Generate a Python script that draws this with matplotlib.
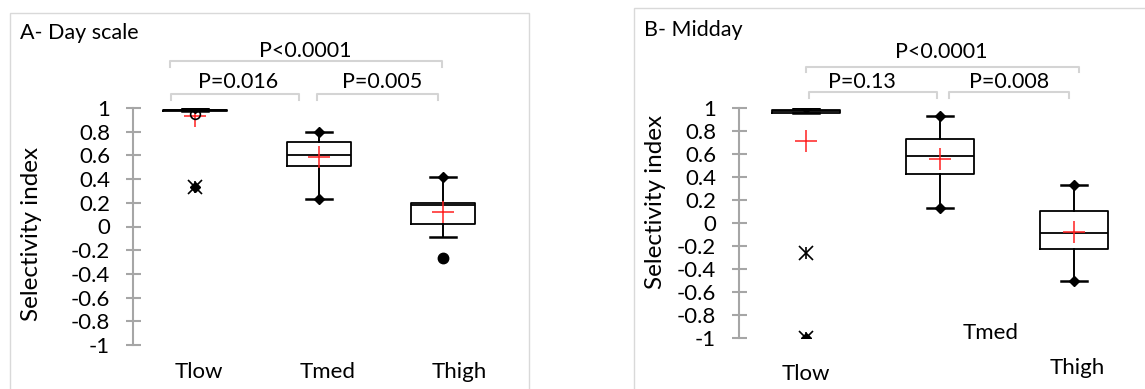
import matplotlib
matplotlib.use('Agg')
import matplotlib.pyplot as plt
from matplotlib.lines import Line2D
from matplotlib.patches import Rectangle

plt.rcParams['font.family'] = ['Lato', 'DejaVu Sans']

# ---------------- data ----------------
categories = ['Tlow', 'Tmed', 'Thigh']
yticks = [1, 0.8, 0.6, 0.4, 0.2, 0, -0.2, -0.4, -0.6, -0.8, -1]
ytick_labels = ['1', '0.8', '0.6', '0.4', '0.2', '0', '-0.2', '-0.4', '-0.6', '-0.8', '-1']

# Panel A - Day scale
a_q1 = [0.977, 0.51, 0.024]
a_med = [0.981, 0.60, 0.18]
a_q3 = [0.985, 0.71, 0.196]
a_whislo = [0.977, 0.23, -0.086]
a_whishi = [1.00, 0.80, 0.42]
a_mean = [0.93, 0.59, 0.12]
a_min = [0.335, 0.23, -0.27]
a_max = [1.00, 0.80, 0.42]
a_star_cat = ['Tlow']
a_star_val = [0.335]
a_open_cat = ['Tlow']
a_open_val = [0.95]
a_dot_cat = ['Thigh']
a_dot_val = [-0.27]
a_pvalues = ['P<0.0001', 'P=0.016', 'P=0.005']

# Panel B - Midday
b_q1 = [0.960, 0.433, -0.226]
b_med = [0.975, 0.589, -0.087]
b_q3 = [0.988, 0.731, 0.109]
b_whislo = [0.960, 0.135, -0.498]
b_whishi = [1.00, 0.93, 0.332]
b_mean = [0.714, 0.557, -0.076]
b_min = [-1.0, 0.135, -0.498]
b_max = [1.00, 0.93, 0.332]
b_star_cat = ['Tlow', 'Tlow']
b_star_val = [-0.26, -1.0]
b_pvalues = ['P<0.0001', 'P=0.13', 'P=0.008']

# ---------------- layout ----------------
W, H = 1145, 389
fig = plt.figure(figsize=(W / 100, H / 100), dpi=100)
fig.patch.set_facecolor('white')

def fx(px):
    return px / W

def fy(py):
    return 1 - py / H

AX_GRAY = '#a6a6a6'
BR_GRAY = '#d4d4d4'
FS_TICK = 16
FS_P = 15.5
FS_TITLE = 15.5
FS_CAT = 16
FS_YLAB = 17.5

def make_axes(rect):
    ax = fig.add_axes(rect)
    ax.set_ylim(-1, 1)
    ax.set_xlim(0, 3)
    for s in ['top', 'right', 'bottom']:
        ax.spines[s].set_visible(False)
    ax.spines['left'].set_color(AX_GRAY)
    ax.spines['left'].set_linewidth(1.5)
    ax.spines['left'].set_bounds(-1, 1)
    ax.set_xticks([])
    ax.set_yticks(yticks)
    ax.set_yticklabels(ytick_labels)
    ax.tick_params(axis='y', direction='inout', length=10.8, width=1.5,
                   color=AX_GRAY, pad=11.0, labelsize=FS_TICK)
    ax.patch.set_alpha(0)
    return ax

def draw_panel(ax, q1, med, q3, wlo, whi, mean, vmin, vmax, width, capw):
    pos = [categories.index(c) + 0.5 for c in categories]
    stats = []
    for i in range(len(categories)):
        stats.append(dict(med=med[i], q1=q1[i], q3=q3[i], whislo=wlo[i],
                          whishi=whi[i], mean=mean[i], fliers=[]))
    ax.bxp(stats, positions=pos, widths=width, capwidths=capw,
           showmeans=True, manage_ticks=False, showfliers=False,
           boxprops=dict(color='black', linewidth=1.3),
           medianprops=dict(color='black', linewidth=1.3),
           whiskerprops=dict(color='black', linewidth=1.4),
           capprops=dict(color='black', linewidth=1.8),
           meanprops=dict(marker='+', markeredgecolor='#ff2020',
                          markersize=16, markeredgewidth=1.1))
    ax.plot(pos, vmax, linestyle='none', marker='D', color='black',
            markersize=5, zorder=4)
    ax.plot(pos, vmin, linestyle='none', marker='D', color='black',
            markersize=5, zorder=4)
    return pos

def star(ax, cats, vals):
    xs = [categories.index(c) + 0.5 for c in cats]
    ax.plot(xs, vals, linestyle='none', marker='x', color='black',
            markersize=10, markeredgewidth=1.2, zorder=5)
    ax.plot(xs, vals, linestyle='none', marker='|', color='black',
            markersize=8, markeredgewidth=1.2, zorder=5)

# Panel A
axA = make_axes([fx(133), fy(345), fx(372), 237 / H])
draw_panel(axA, a_q1, a_med, a_q3, a_whislo, a_whishi, a_mean,
           a_min, a_max, 0.51, 0.21)
star(axA, a_star_cat, a_star_val)
axA.plot([categories.index(c) + 0.5 for c in a_open_cat], a_open_val,
         linestyle='none', marker='o', markerfacecolor='none',
         markeredgecolor='black', markersize=7, markeredgewidth=1.2, zorder=5)
axA.plot([categories.index(c) + 0.5 for c in a_dot_cat], a_dot_val,
         linestyle='none', marker='o', color='black', markersize=7.5, zorder=5)

# Panel B
axB = make_axes([fx(739), fy(338.3), fx(402), 230 / H])
draw_panel(axB, b_q1, b_med, b_q3, b_whislo, b_whishi, b_mean,
           b_min, b_max, 0.507, 0.2)
star(axB, b_star_cat, b_star_val)

# panel borders
fig.add_artist(Rectangle((fx(10), -0.05), fx(519), fy(13) + 0.05,
                         transform=fig.transFigure, fill=False,
                         edgecolor='#d9d9d9', linewidth=1.0))
fig.add_artist(Rectangle((fx(634), -0.05), fx(600), fy(8) + 0.05,
                         transform=fig.transFigure, fill=False,
                         edgecolor='#d9d9d9', linewidth=1.0))

def bracket(x0, x1, y, drop):
    fig.add_artist(Line2D([fx(x0), fx(x0), fx(x1), fx(x1)],
                          [fy(y + drop), fy(y), fy(y), fy(y + drop)],
                          transform=fig.transFigure, color=BR_GRAY, linewidth=1.5))

def ftext(x, y, s, **kw):
    fig.text(fx(x), fy(y), s, **kw)

# Titles
ftext(20, 33, 'A- Day scale', ha='left', va='center', fontsize=FS_TITLE)
ftext(644, 30, 'B- Midday', ha='left', va='center', fontsize=FS_TITLE)

# brackets & p-values A
bracket(170, 442, 61, 6)
bracket(171, 299, 94, 6)
bracket(317, 438, 94, 6)
ftext(305, 51, a_pvalues[0], ha='center', va='center', fontsize=FS_P)
ftext(238, 82, a_pvalues[1], ha='center', va='center', fontsize=FS_P)
ftext(382, 82, a_pvalues[2], ha='center', va='center', fontsize=FS_P)

# brackets & p-values B
bracket(806, 1079, 67, 5)
bracket(809, 937, 92, 6)
bracket(949, 1069, 92, 6)
ftext(941, 52, b_pvalues[0], ha='center', va='center', fontsize=FS_P)
ftext(862, 82, b_pvalues[1], ha='center', va='center', fontsize=FS_P)
ftext(1009.5, 82, b_pvalues[2], ha='center', va='center', fontsize=FS_P)

# category labels
for (x, y), c in zip([(198.7, 372), (328, 372), (459, 372)], categories):
    ftext(x, y, c, ha='center', va='center', fontsize=FS_CAT)
for (x, y), c in zip([(806, 374), (991, 333), (1077, 368)], categories):
    ftext(x, y, c, ha='center', va='center', fontsize=FS_CAT)

# y labels
ftext(31.7, 233.5, 'Selectivity index', ha='center', va='center',
      rotation=90, fontsize=FS_YLAB)
ftext(655.6, 201.5, 'Selectivity index', ha='center', va='center',
      rotation=90, fontsize=FS_YLAB)

fig.savefig('out.png', dpi=100, facecolor='white')
